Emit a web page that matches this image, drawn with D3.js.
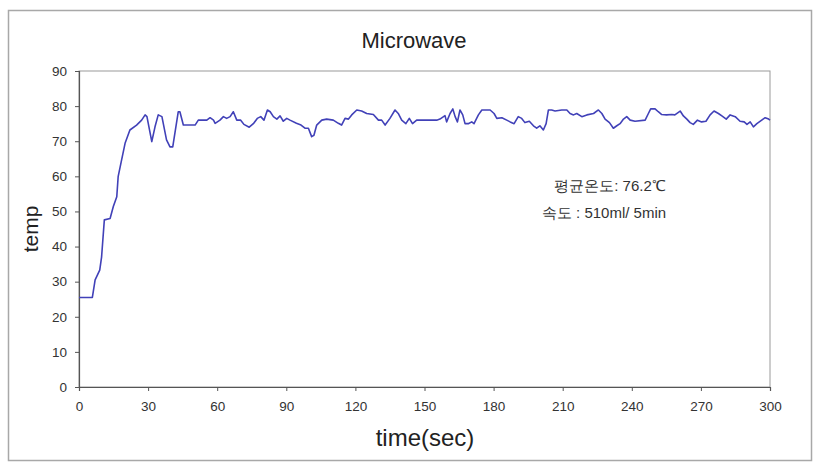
<!DOCTYPE html>
<html>
<head>
<meta charset="utf-8">
<script src="https://cdn.jsdelivr.net/npm/d3@7"></script>
<style>
  body { margin: 0; background: #fff; }
  svg text { font-family: "Liberation Sans", Arial, sans-serif; }
</style>
</head>
<body>
<svg id="chart" width="815" height="465"></svg>
<script>
const title = "Microwave";
const xLabel = "time(sec)";
const yLabel = "temp";
const xTicks = [0, 30, 60, 90, 120, 150, 180, 210, 240, 270, 300];
const yTicks = [0, 10, 20, 30, 40, 50, 60, 70, 80, 90];
const noteLines = ["평균온도: 76.2℃", "속도 : 510ml/ 5min"];

const timeSec = [0, 5.8, 7, 9, 9.8, 11, 13.5, 14.9, 16.4, 17, 18.5, 20, 22.1, 25, 27.2, 28.7, 29.5,
  31.6, 33, 34.4, 36, 38, 39.5, 40.7, 43.1, 43.8, 45.3, 50.4, 51.8, 55.5, 56.9, 58.4, 59.1,
  61.2, 62.7, 64.1, 65.6, 67, 68.5, 70.2, 71.6, 73.9, 75.7, 77.4, 78.9, 80.3, 81.8, 83, 84.4,
  85.9, 87.3, 88.7, 90.2, 91.6, 94.4, 96.4, 98.1, 99.6, 101, 102, 103.2, 105.4, 107.5, 110.4,
  112.6, 114, 115.5, 117, 118.4, 120.6, 122.7, 124.9, 127.8, 130, 131.4, 132.9, 135, 137.2,
  138.6, 140.1, 141.9, 143.4, 144.8, 146.6, 150.9, 155.3, 156.7, 158.9, 159.6, 161.1, 162.3,
  163.3, 164.3, 165.4, 166.6, 167.6, 169, 170.5, 171.5, 173.4, 174.9, 178.5, 180.2, 181.4,
  183.6, 185.7, 187.2, 188.9, 190.7, 192.2, 193.6, 195.5, 197.3, 198.7, 200.1, 201.6, 202.8,
  203.8, 205.2, 206.7, 209.6, 211.8, 213.2, 214.7, 216.1, 218.3, 220.5, 223.4, 225.5, 227,
  228.4, 230.3, 232, 233.5, 234.9, 236.4, 237.8, 239.3, 241.4, 245.8, 247.2, 248.2, 250.1,
  251.5, 253, 255.1, 257.3, 258.7, 261, 262.4, 263.9, 265.3, 266.7, 268.5, 270.3, 272.2, 274,
  275.7, 277.6, 279.1, 281, 282.7, 284.9, 287, 288.8, 290, 291.4, 292.8, 294.3, 296.4, 297.9,
  299.4, 300];
const temp = [25.5, 25.5, 30.5, 33.3, 37, 47.6, 48, 51.4, 54.2, 59.9, 64.7, 69.4, 73.2, 74.6, 76, 77.5, 77,
  69.9, 74.1, 77.5, 77, 70.4, 68.4, 68.4, 78.4, 78.4, 74.6, 74.6, 76, 76, 76.7, 76, 75.1,
  76, 77, 76.5, 77, 78.4, 76, 76, 74.8, 74, 75, 76.5, 77, 76, 78.9, 78.4, 77,
  76.3, 77.2, 75.7, 76.5, 76, 75.1, 74.6, 73.7, 73.7, 71.3, 71.7, 74.6, 76, 76.3, 76,
  75.1, 74.6, 76.5, 76.3, 77.5, 78.9, 78.6, 77.9, 77.6, 76, 76, 74.6, 76.5, 78.9,
  77.9, 76, 75, 76.5, 75, 76, 76, 76, 76.3, 77.3, 75.5, 77.9, 79.2,
  77, 75.5, 78.9, 77.5, 75, 75, 75.5, 75, 77.5, 78.9, 78.9, 77.9, 76.5,
  76.7, 76, 75.5, 75, 77, 76.5, 75.3, 75.7, 74.4, 73.7, 74.4, 73.2, 75,
  78.9, 78.9, 78.6, 78.9, 78.9, 77.9, 77.5, 77.9, 77, 77.5, 77.9, 78.9, 77.9,
  76.3, 75.3, 73.7, 74.4, 75, 76.3, 77, 76, 75.7, 76, 77.9, 79.2, 79.2,
  78.4, 77.6, 77.5, 77.6, 77.5, 78.6, 77.2, 76.3, 75.3, 74.8, 76, 75.5, 75.7, 77.5,
  78.6, 77.9, 77.2, 76.3, 77.5, 77, 75.7, 75.5, 74.8, 75.5, 74.1, 75, 76, 76.7,
  76.3, 76];

const svg = d3.select("#chart");
const m = { left: 79, right: 770, top: 71, bottom: 387 };

// outer frame
svg.append("rect").attr("x", 8.5).attr("y", 10.5).attr("width", 803).attr("height", 450)
  .attr("fill", "#fff").attr("stroke", "#a8a8a8").attr("stroke-width", 1.5);

const x = d3.scaleLinear().domain([0, 300]).range([m.left, m.right]);
const y = d3.scaleLinear().domain([0, 90]).range([m.bottom, m.top]);

// plot area border (top & right)
svg.append("rect").attr("x", m.left).attr("y", m.top)
  .attr("width", m.right - m.left).attr("height", m.bottom - m.top)
  .attr("fill", "none").attr("stroke", "#9a9a9a").attr("stroke-width", 1);

const xAxis = svg.append("g").attr("transform", `translate(0,${m.bottom})`)
  .call(d3.axisBottom(x).tickValues(xTicks).tickSize(4).tickPadding(10).tickFormat(d3.format("d")));
const yAxis = svg.append("g").attr("transform", `translate(${m.left},0)`)
  .call(d3.axisLeft(y).tickValues(yTicks).tickSize(4).tickPadding(8).tickFormat(d3.format("d")));

[xAxis, yAxis].forEach(g => {
  g.select(".domain").attr("stroke", "#555").attr("stroke-width", 1.2);
  g.selectAll(".tick line").attr("stroke", "#555");
  g.selectAll(".tick text").attr("fill", "#333").style("font-size", "13.5px");
});

const line = d3.line().x((d, i) => x(timeSec[i])).y(d => y(d)).curve(d3.curveLinear);
svg.append("path").datum(temp).attr("d", line)
  .attr("fill", "none").attr("stroke", "#4141b8").attr("stroke-width", 1.6)
  .attr("stroke-linejoin", "round");

svg.append("text").attr("x", 414).attr("y", 48).attr("text-anchor", "middle")
  .attr("fill", "#222").style("font-size", "22px").text(title);

svg.append("text").attr("x", 425).attr("y", 446).attr("text-anchor", "middle")
  .attr("fill", "#222").style("font-size", "24px").text(xLabel);

svg.append("text").attr("transform", "translate(38,229) rotate(-90)").attr("text-anchor", "middle")
  .attr("fill", "#222").style("font-size", "21px").text(yLabel);

svg.append("text").attr("x", 610).attr("y", 191).attr("text-anchor", "middle")
  .attr("fill", "#333").style("font-size", "15px").text(noteLines[0]);
svg.append("text").attr("x", 604).attr("y", 218).attr("text-anchor", "middle")
  .attr("fill", "#333").style("font-size", "15px").text(noteLines[1]);
</script>
</body>
</html>
